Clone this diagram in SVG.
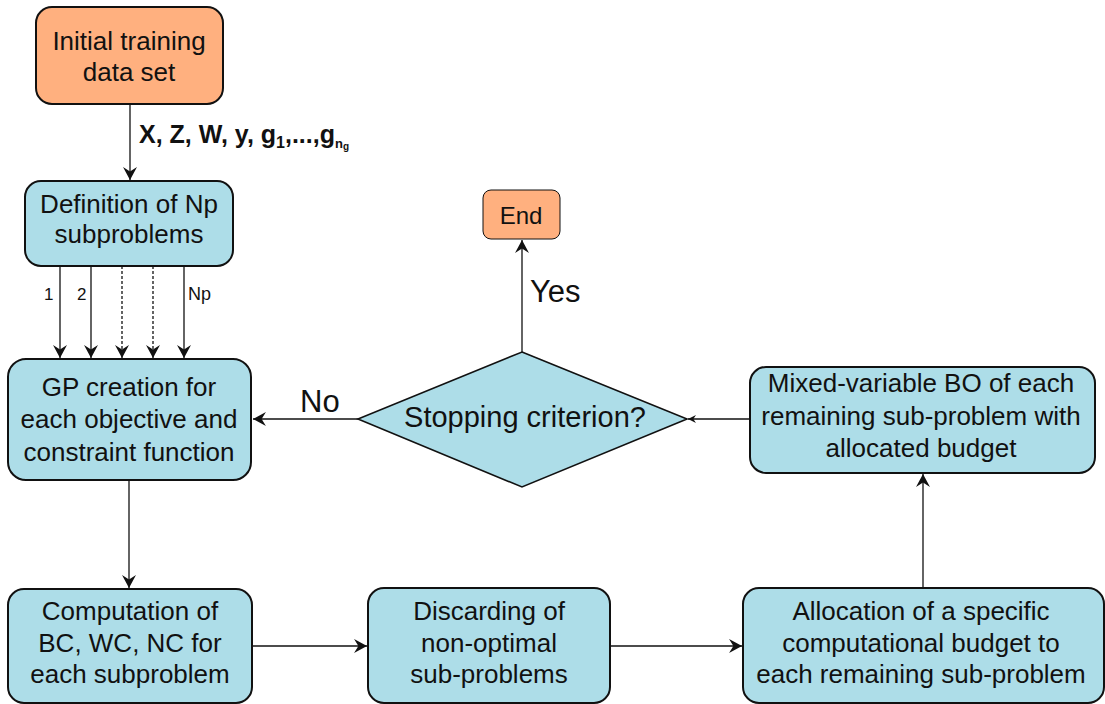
<svg xmlns="http://www.w3.org/2000/svg" width="1105" height="704" viewBox="0 0 1105 704">
<defs>
<style>
.box{fill:#ADDDE8;stroke:#111;stroke-width:2}
.org{fill:#FFB07F;stroke:#111;stroke-width:2}
.t{font-family:"Liberation Sans",Arial,sans-serif;font-size:26px;fill:#111;text-anchor:middle}
.lbl{font-family:"Liberation Sans",Arial,sans-serif;fill:#111}
.c{stroke:#111;stroke-width:1.3;fill:none}
.d{stroke-dasharray:3,2}
</style>
<marker id="ah" viewBox="0 0 12 13" refX="12" refY="6.5" markerWidth="13" markerHeight="14" markerUnits="userSpaceOnUse" orient="auto">
<path d="M0,0 L12,6.5 L0,13 L4,6.5 z" fill="#111"/>
</marker>
<marker id="ahs" viewBox="0 0 12 12" refX="12" refY="6" markerWidth="9" markerHeight="8" markerUnits="userSpaceOnUse" orient="auto">
<path d="M0,0 L12,6 L0,12 L4,6 z" fill="#111"/>
</marker>
</defs>

<g id="connectors">
<line class="c" x1="130" y1="104" x2="130" y2="180" marker-end="url(#ah)"/>
<line class="c" x1="60" y1="266" x2="60" y2="358" marker-end="url(#ah)"/>
<line class="c" x1="91" y1="266" x2="91" y2="358" marker-end="url(#ah)"/>
<line class="c d" x1="122" y1="266" x2="122" y2="358" marker-end="url(#ah)"/>
<line class="c d" x1="153" y1="266" x2="153" y2="358" marker-end="url(#ah)"/>
<line class="c" x1="184" y1="266" x2="184" y2="358" marker-end="url(#ah)"/>
<line class="c" x1="129" y1="480" x2="129" y2="588" marker-end="url(#ah)"/>
<line class="c" x1="252" y1="646" x2="367" y2="646" marker-end="url(#ah)"/>
<line class="c" x1="610" y1="646" x2="742" y2="646" marker-end="url(#ah)"/>
<line class="c" x1="923" y1="588" x2="923" y2="474" marker-end="url(#ah)"/>
<line class="c" x1="750" y1="419" x2="688" y2="419" marker-end="url(#ahs)"/>
<line class="c" x1="358" y1="419" x2="253" y2="419" marker-end="url(#ah)"/>
<line class="c" x1="522" y1="352" x2="522" y2="240" marker-end="url(#ah)"/>
<text class="lbl" x="139" y="143" style="font-size:25px;font-weight:bold">X, Z, W, y, g<tspan style="font-size:16px" dy="5">1</tspan><tspan dy="-5">,...,g</tspan><tspan style="font-size:13px" dy="5">n</tspan><tspan style="font-size:10px" dy="2">g</tspan></text>
<text class="lbl" x="44" y="300" style="font-size:17px">1</text>
<text class="lbl" x="77" y="300" style="font-size:17px">2</text>
<text class="lbl" x="188" y="300" style="font-size:18px">Np</text>
<text class="lbl" x="300" y="412" style="font-size:31px">No</text>
<text class="lbl" x="530" y="302" style="font-size:31px">Yes</text>
</g>

<g id="initial">
<rect class="org" x="36" y="7" width="187" height="97" rx="16"/>
<text class="t" x="129" y="50">Initial training</text>
<text class="t" x="129" y="81">data set</text>
</g>

<g id="definition">
<rect class="box" x="25" y="181" width="208" height="85" rx="16"/>
<text class="t" x="129" y="213">Definition of Np</text>
<text class="t" x="129" y="243">subproblems</text>
</g>

<g id="gp">
<rect class="box" x="8" y="359" width="243" height="121" rx="18"/>
<text class="t" x="129" y="396">GP creation for</text>
<text class="t" x="129" y="428">each objective and</text>
<text class="t" x="129" y="461">constraint function</text>
</g>

<g id="stopping">
<polygon points="522,352 687,419 522,487 358,419" fill="#ADDDE8" stroke="#111" stroke-width="1.6"/>
<text class="t" x="525" y="427" style="font-size:29px">Stopping criterion?</text>
</g>

<g id="end">
<rect x="483" y="190" width="77" height="49" rx="8" fill="#FFB07F" stroke="#111" stroke-width="1"/>
<text class="t" x="521" y="224" style="font-size:24px">End</text>
</g>

<g id="mixed">
<rect class="box" x="750" y="367" width="345" height="106" rx="16"/>
<text class="t" x="921" y="392">Mixed-variable BO of each</text>
<text class="t" x="921" y="425">remaining sub-problem with</text>
<text class="t" x="921" y="457">allocated budget</text>
</g>

<g id="computation">
<rect class="box" x="8" y="589" width="244" height="114" rx="16"/>
<text class="t" x="130" y="620">Computation of</text>
<text class="t" x="130" y="652">BC, WC, NC for</text>
<text class="t" x="130" y="683">each subproblem</text>
</g>

<g id="discarding">
<rect class="box" x="368" y="588" width="242" height="115" rx="16"/>
<text class="t" x="489" y="620">Discarding of</text>
<text class="t" x="489" y="652">non-optimal</text>
<text class="t" x="489" y="683">sub-problems</text>
</g>

<g id="allocation">
<rect class="box" x="743" y="588" width="361" height="115" rx="16"/>
<text class="t" x="921" y="620">Allocation of a specific</text>
<text class="t" x="921" y="652">computational budget to</text>
<text class="t" x="921" y="683">each remaining sub-problem</text>
</g>
</svg>
